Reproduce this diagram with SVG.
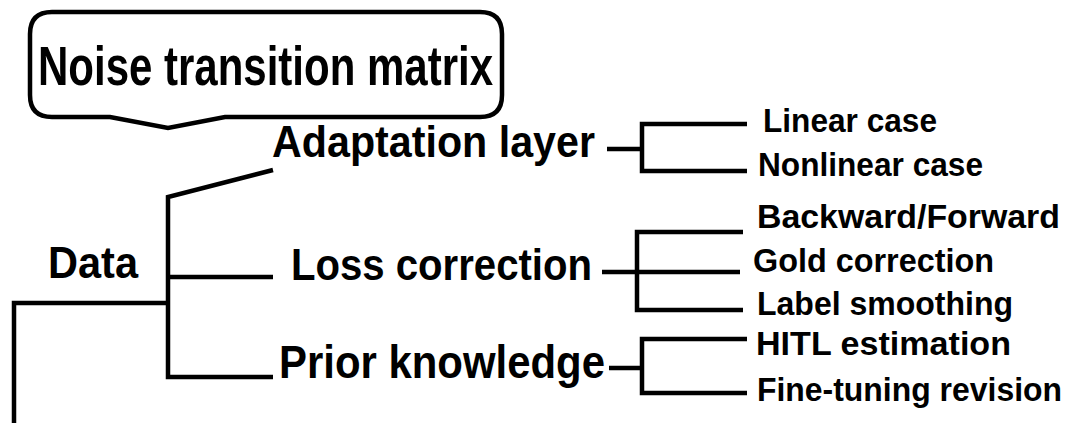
<svg xmlns="http://www.w3.org/2000/svg" width="1072" height="423" viewBox="0 0 1072 423">
  <style>
    .ln { fill: none; stroke: #000; stroke-width: 4.5; stroke-linejoin: miter; stroke-linecap: butt; }
    .t { font-family: "Liberation Sans", Arial, sans-serif; font-weight: bold; fill: #000; }
    .big { font-size: 56px; }
    .mid { font-size: 44px; }
    .sm { font-size: 34px; }
  </style>
  <rect width="1072" height="423" fill="#fff"/>

  <!-- callout bubble -->
  <g id="noise-transition-matrix">
    <path class="ln" d="M52 12 H480 Q502 12 502 34 V95 Q502 117 480 117 H225 L168 128 L110 117 H52 Q30 117 30 95 V34 Q30 12 52 12 Z"/>
    <text class="t big" x="38" y="85" textLength="455" lengthAdjust="spacingAndGlyphs">Noise transition matrix</text>
  </g>

  <g id="data"><text class="t mid" x="48" y="278" textLength="90" lengthAdjust="spacingAndGlyphs">Data</text></g>
  <g id="adaptation-layer"><text class="t mid" x="272" y="157" textLength="323" lengthAdjust="spacingAndGlyphs">Adaptation layer</text></g>
  <g id="loss-correction"><text class="t mid" x="291" y="280" textLength="301" lengthAdjust="spacingAndGlyphs">Loss correction</text></g>
  <g id="prior-knowledge"><text class="t" style="font-size:47px" x="279" y="378" textLength="326" lengthAdjust="spacingAndGlyphs">Prior knowledge</text></g>

  <g id="linear-case"><text class="t sm" x="763" y="132" textLength="174" lengthAdjust="spacingAndGlyphs">Linear case</text></g>
  <g id="nonlinear-case"><text class="t sm" x="758" y="176" textLength="225" lengthAdjust="spacingAndGlyphs">Nonlinear case</text></g>
  <g id="backward-forward"><text class="t sm" x="757" y="228" textLength="303" lengthAdjust="spacingAndGlyphs">Backward/Forward</text></g>
  <g id="gold-correction"><text class="t sm" x="753" y="272" textLength="241" lengthAdjust="spacingAndGlyphs">Gold correction</text></g>
  <g id="label-smoothing"><text class="t sm" x="757" y="315" textLength="256" lengthAdjust="spacingAndGlyphs">Label smoothing</text></g>
  <g id="hitl-estimation"><text class="t sm" x="756" y="355" textLength="255" lengthAdjust="spacingAndGlyphs">HITL estimation</text></g>
  <g id="fine-tuning-revision"><text class="t sm" x="757" y="401" textLength="305" lengthAdjust="spacingAndGlyphs">Fine-tuning revision</text></g>

  <g id="connectors">
    <!-- trunk -->
    <path class="ln" d="M14 423 V303 H168"/>
    <path class="ln" d="M273 170 L168 197 V377 H273"/>
    <path class="ln" d="M168 277 H273"/>
    <!-- adaptation layer bracket -->
    <path class="ln" d="M607 149 H642"/>
    <path class="ln" d="M747 124 H642 V171 H747"/>
    <!-- loss correction bracket -->
    <path class="ln" d="M602 272 H637"/>
    <path class="ln" d="M743 232 H637 V310 H743"/>
    <path class="ln" d="M637 272 H740"/>
    <!-- prior knowledge bracket -->
    <path class="ln" d="M609 368 H642"/>
    <path class="ln" d="M747 339 H642 V393 H747"/>
  </g>
</svg>
